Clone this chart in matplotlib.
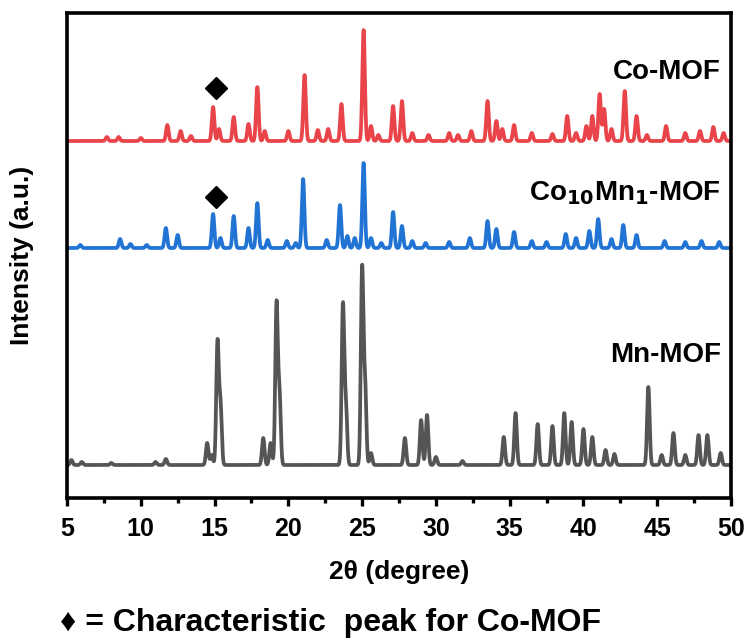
import matplotlib
matplotlib.use("Agg")
import matplotlib.pyplot as plt
import numpy as np

plt.rcParams["font.family"] = ["Liberation Sans", "DejaVu Sans"]
plt.rcParams["font.weight"] = "bold"
plt.rcParams["mathtext.default"] = "bf"

# peak positions (2theta, deg) and heights (a.u.)
co_pos = [7.7, 8.5, 10.0, 11.8, 12.7, 13.4, 14.9, 15.3, 16.3, 17.3, 17.9, 18.4, 20.0, 21.1,
          22.0, 22.7, 23.6, 25.1, 25.6, 26.1, 27.1, 27.7, 28.4, 29.5, 30.9, 31.5, 32.4, 33.5,
          34.1, 34.5, 35.3, 36.5, 37.9, 38.9, 39.5, 40.2, 40.6, 41.1, 41.4, 41.9, 42.8, 43.6,
          44.3, 45.6, 46.9, 47.9, 48.8, 49.5]
co_h = [4, 4, 3, 16, 10, 5, 34, 12, 24, 17, 54, 10, 10, 66,
        11, 12, 37, 111, 15, 6, 35, 40, 8, 6, 8, 6, 10, 40,
        20, 12, 16, 8, 7, 25, 8, 15, 25, 47, 32, 12, 50, 25,
        6, 15, 8, 10, 14, 8]

comn_pos = [5.9, 8.6, 9.3, 10.4, 11.7, 12.5, 14.9, 15.4, 16.3, 17.3, 17.9, 18.6, 19.9, 20.5,
            21.0, 22.6, 23.5, 24.0, 24.5, 25.1, 25.6, 26.3, 27.1, 27.7, 28.4, 29.3, 30.9, 32.3,
            33.5, 34.1, 35.3, 36.5, 37.5, 38.8, 39.5, 40.4, 41.0, 41.9, 42.7, 43.6, 45.5, 46.9,
            48.0, 49.2]
comn_h = [3, 9, 4, 3, 20, 13, 34, 10, 32, 20, 45, 8, 7, 5,
          69, 8, 43, 12, 10, 85, 10, 5, 36, 22, 7, 5, 6, 10,
          27, 19, 16, 7, 6, 14, 10, 17, 29, 9, 23, 13, 7, 6,
          7, 6]

mn_pos = [5.3, 6.0, 8.0, 11.0, 11.7, 14.5, 14.8, 15.2, 15.4, 18.3, 18.8, 19.2, 19.4, 23.7,
          23.9, 25.0, 25.2, 25.6, 27.9, 29.0, 29.4, 30.0, 31.8, 34.6, 35.4, 36.9, 37.9, 38.7,
          39.2, 40.0, 40.6, 41.5, 42.1, 44.4, 45.3, 46.1, 46.9, 47.8, 48.4, 49.3]
mn_h = [5, 3, 2, 3, 6, 22, 10, 122, 60, 27, 22, 160, 70, 159,
        60, 195, 80, 12, 27, 45, 50, 8, 4, 28, 52, 41, 39, 52,
        43, 36, 28, 15, 11, 78, 10, 32, 10, 30, 30, 12]

offsets = {"Mn-MOF": 33, "Co10Mn1-MOF": 250, "Co-MOF": 357}
colors = {"Mn-MOF": "#555555", "Co10Mn1-MOF": "#2174D4", "Co-MOF": "#E8444A"}

# the starred peak of Co-MOF, drawn on both Co-containing patterns
mark_pos = 15.1
mark_y = {"Co10Mn1-MOF": 301, "Co-MOF": 410}


def pattern(pos, h, x, width=0.085):
    y = np.zeros_like(x)
    for p, a in zip(pos, h):
        y += a * np.exp(-0.5 * ((x - p) / width) ** 2)
    return y


x = np.linspace(5, 49.8, 4000)

fig = plt.figure(figsize=(7.49, 6.4), dpi=100)
ax = fig.add_axes([67 / 749, 1 - 498 / 640, 664 / 749, 485 / 640])

series = [("Mn-MOF", mn_pos, mn_h), ("Co10Mn1-MOF", comn_pos, comn_h), ("Co-MOF", co_pos, co_h)]
for name, pos, h in series:
    ax.plot(x, offsets[name] + pattern(pos, h, x), color=colors[name], lw=2.7)

for name, y in mark_y.items():
    ax.plot(mark_pos, y, marker="D", ms=11, color="black", ls="none")

ax.text(49.3, 426, "Co-MOF", ha="right", va="center", fontsize=20, fontweight="bold")
ax.text(49.3, 305, r"Co$_{10}$Mn$_{1}$-MOF", ha="right", va="center",
        fontsize=20, fontweight="bold")
ax.text(49.3, 143, "Mn-MOF", ha="right", va="center", fontsize=20, fontweight="bold")

ax.set_xlim(5, 50)
ax.set_ylim(0, 485)
ax.set_xticks(np.arange(5, 51, 5))
ax.set_xticks(np.arange(7.5, 50, 5), minor=True)
ax.set_yticks([])
ax.tick_params(axis="x", which="major", direction="out", length=6, width=2.4,
               labelsize=18, pad=8)
ax.tick_params(axis="x", which="minor", direction="out", length=3.5, width=2.4)
for lab in ax.get_xticklabels():
    lab.set_fontweight("bold")
for s in ax.spines.values():
    s.set_linewidth(2.6)

ax.set_xlabel("2θ (degree)", fontsize=19, fontweight="bold", labelpad=13)
ax.set_ylabel("Intensity (a.u.)", fontsize=19, fontweight="bold", labelpad=24)

fig.text(60 / 749, 1 - 623 / 640, "♦ = Characteristic  peak for Co-MOF",
         ha="left", va="center", fontsize=23, fontweight="bold")

fig.savefig("out.png", dpi=100)
